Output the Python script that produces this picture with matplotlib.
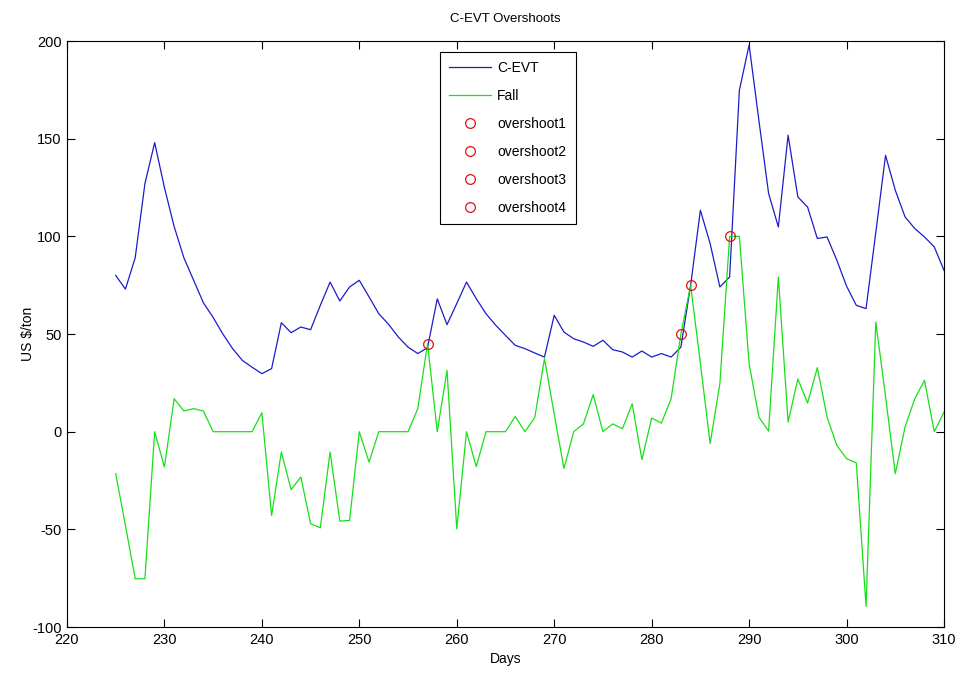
import matplotlib
matplotlib.use("Agg")
import matplotlib.pyplot as plt

plt.rcParams['font.family'] = ['Liberation Sans', 'DejaVu Sans']
plt.rcParams['axes.unicode_minus'] = False

days = list(range(225, 311))

cevt = [80, 73, 89, 127, 148, 125, 105, 89, 77.5, 66, 58.5, 50, 42.5, 36.5, 33, 29.7,
        32.3, 55.8, 50.7, 53.6, 52.2, 64.7, 76.6, 66.9, 74.1, 77.5, 69, 60.4, 55, 48.5,
        43.3, 40, 43, 68, 54.8, 65.6, 76.6, 68.1, 60.4, 54.5, 49.3, 44.2, 42.5, 40.3,
        38.2, 59.6, 51, 47.6, 45.9, 43.7, 46.8, 42, 40.8, 38.2, 41.3, 38.2, 40, 38.2,
        43.3, 75, 113.4, 96.3, 74.1, 79.2, 174.8, 198, 159.5, 122, 104.8, 151.8, 120.2,
        115, 98.9, 99.7, 87.8, 74.5, 64.7, 63, 102, 141.5, 123.6, 110, 104, 99.7, 94.6,
        82.6]

fall = [-21.5, -48, -75.3, -75.3, 0, -18.1, 16.9, 10.6, 11.8, 10.6, 0, 0, 0, 0, 0, 9.7,
        -42.9, -10.4, -29.7, -23.2, -47.1, -49.2, -10.4, -45.8, -45.4, 0, -15.6, 0, 0, 0,
        0, 11.8, 45, 0, 31.4, -49.7, 0, -17.9, 0, 0, 0, 7.8, 0, 7.2, 37.4, 9, -18.8, 0,
        4, 19, 0, 4, 1.5, 14.3, -14.3, 7, 4.4, 17, 50, 75, 35, -6, 24.6, 100, 100, 34.8,
        7.5, 0.3, 79.2, 4.9, 27, 14.7, 32.8, 7.5, -7, -13.8, -16, -89.5, 56.2, 18, -21.5,
        2.4, 16.9, 26.3, 0, 10]

overshoot_days = [257, 283, 284, 288]
overshoot_vals = [45, 50, 75, 100]
overshoot_labels = ['overshoot1', 'overshoot2', 'overshoot3', 'overshoot4']

fig = plt.figure(figsize=(9.58, 6.84), dpi=100)
ax = fig.add_axes([0.0699, 0.0833, 0.9155, 0.8567])

ax.plot(days, cevt, color='#1c1cc8', linewidth=0.9, label='C-EVT')
ax.plot(days, fall, color='#18e018', linewidth=0.9, label='Fall')
for d, v, lab in zip(overshoot_days, overshoot_vals, overshoot_labels):
    ax.plot([d], [v], linestyle='none', marker='o', markersize=7,
            markerfacecolor='none', markeredgecolor='#e01010',
            markeredgewidth=0.9, label=lab)

ax.set_xlim(220, 310)
ax.set_ylim(-100, 200)
ax.set_xticks(range(220, 311, 10))
ax.set_yticks(range(-100, 201, 50))
ax.tick_params(direction='in', top=True, right=True, length=6, width=0.8,
               labelsize=10.5, pad=4)
for s in ax.spines.values():
    s.set_linewidth(0.8)

ax.set_title('C-EVT Overshoots', fontsize=9.5, pad=14)
ax.set_xlabel('Days', fontsize=10, labelpad=4)
ax.set_ylabel('US $/ton', fontsize=10, labelpad=-2)

leg = ax.legend(loc='upper left', bbox_to_anchor=(0.425, 0.982), fontsize=10,
                frameon=True, fancybox=False, edgecolor='black', framealpha=1,
                labelspacing=1.0, handlelength=3.0, handletextpad=0.45,
                borderpad=0.7, borderaxespad=0)
leg.get_frame().set_linewidth(0.8)

fig.savefig('out.png', dpi=100)
